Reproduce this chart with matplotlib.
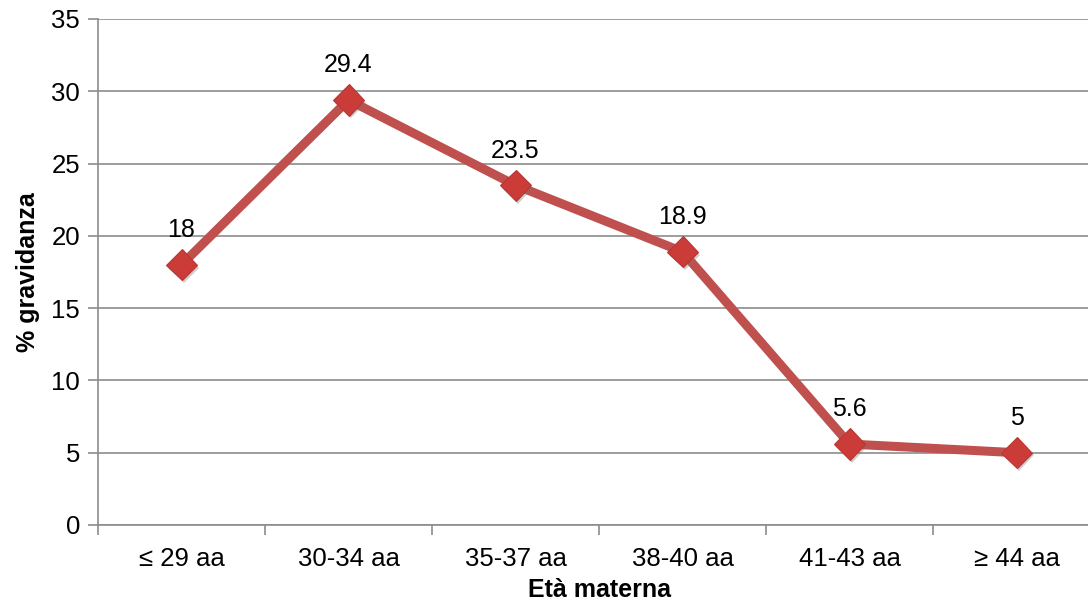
import matplotlib
matplotlib.use("Agg")
import matplotlib.pyplot as plt
from matplotlib.ticker import FixedLocator, NullFormatter
import matplotlib.patheffects as pe

categories = ["≤ 29 aa", "30-34 aa", "35-37 aa", "38-40 aa", "41-43 aa", "≥ 44 aa"]
pregnancy_pct = [18, 29.4, 23.5, 18.9, 5.6, 5]
y_ticks = [0, 5, 10, 15, 20, 25, 30, 35]

plt.rcParams["font.family"] = ["Liberation Sans", "DejaVu Sans"]

fig = plt.figure(figsize=(10.88, 6.08), dpi=100)
ax = fig.add_axes([98 / 1088, 1 - 525 / 608, 1002 / 1088, 506 / 608])

grid_color = "#8c8c8c"
line_color = "#C0504D"

x = list(range(len(categories)))
ax.plot(x, pregnancy_pct, color=line_color, linewidth=6.5, solid_capstyle="round",
        zorder=3)
ax.plot(x, pregnancy_pct, linestyle="none", marker="D", markersize=16,
        markerfacecolor="#CB3B38", markeredgecolor="#B83532", markeredgewidth=0.8,
        zorder=4,
        path_effects=[pe.SimplePatchShadow(offset=(1.5, -2), shadow_rgbFace="#777777",
                                           alpha=0.35), pe.Normal()])

for xi, v in zip(x, pregnancy_pct):
    ax.annotate(f"{v:g}", (xi, v), xytext=(0, 25), textcoords="offset points",
                ha="center", va="center", fontsize=18, color="black")

ax.set_xlim(-0.5, len(categories) - 0.5)
ax.set_ylim(0, 35)
ax.set_yticks(y_ticks)
ax.set_yticklabels([str(t) for t in y_ticks])
ax.set_xticks(x)
ax.set_xticklabels(categories)
ax.xaxis.set_minor_locator(FixedLocator([i + 0.5 for i in range(-1, len(categories))]))
ax.xaxis.set_minor_formatter(NullFormatter())

ax.tick_params(axis="x", which="major", length=0, pad=16, labelsize=18.5)
ax.tick_params(axis="x", which="minor", length=7, width=1.2, color=grid_color)
ax.tick_params(axis="y", which="major", length=7, width=1.2, color=grid_color,
               pad=6, labelsize=18.5)

ax.yaxis.grid(True, color=grid_color, linewidth=1.2)
ax.set_axisbelow(True)
for side in ["top", "right"]:
    ax.spines[side].set_visible(False)
for side in ["left", "bottom"]:
    ax.spines[side].set_color(grid_color)
    ax.spines[side].set_linewidth(1.2)

ax.set_xlabel("Età materna", fontsize=18, fontweight="bold", labelpad=5)
ax.set_ylabel("% gravidanza", fontsize=18, fontweight="bold", labelpad=8)

fig.savefig("out.png", dpi=100)
